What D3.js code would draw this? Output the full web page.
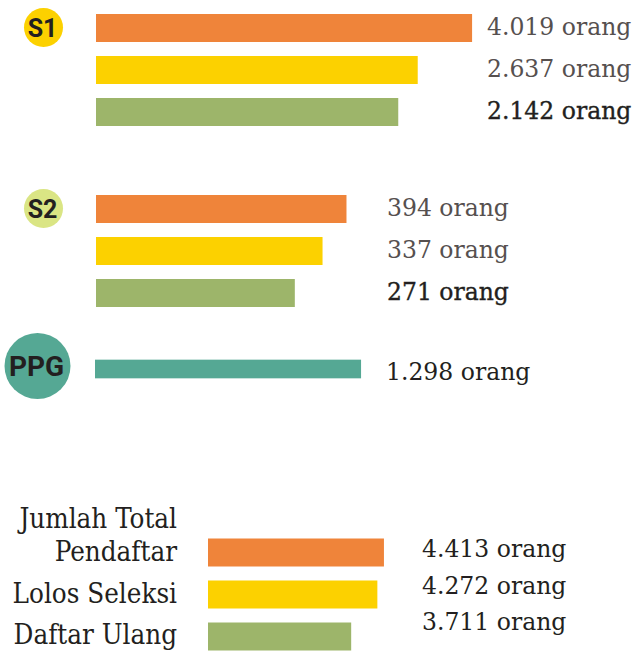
<!DOCTYPE html>
<html>
<head>
<meta charset="utf-8">
<script src="https://cdn.jsdelivr.net/npm/d3@7"></script>
<style>
  body { margin: 0; background: #fff; }
  svg { display: block; }
  .lencana { font-family: Roboto, "Open Sans", sans-serif; font-weight: 700; fill: #231f20; }
  .nilai { font-family: "DejaVu Serif", serif; font-size: 23.5px; }
  .tebal { stroke: #231f20; stroke-width: 0.35px; }
  .tahap { font-family: "DejaVu Serif Condensed", "DejaVu Serif", serif; font-stretch: condensed; font-size: 27.5px; fill: #231f20; }
</style>
</head>
<body>
<svg id="grafik" width="643" height="652"></svg>
<script>
// data per jenjang (urutan: pendaftar, lolos seleksi, daftar ulang)
const jenjang = ["S1", "S2", "PPG"];
const s1Nilai = [4019, 2637, 2142];
const s2Nilai = [394, 337, 271];
const ppgNilai = [1298];

// rekap total
const tahap = ["Jumlah Total Pendaftar", "Lolos Seleksi", "Daftar Ulang"];
const totalNilai = [4413, 4272, 3711];

const warnaTahap = ["#ef843a", "#fcd100", "#9db56a"];
const warnaPPG = "#55a894";

const idLocale = d3.formatLocale({ decimal: ",", thousands: ".", grouping: [3], currency: ["Rp", ""] });
const fmt = idLocale.format(",");

const svg = d3.select("#grafik");

// tiap blok punya skala sendiri (seperti infografis aslinya)
const blok = [
  { nama: "S1", nilai: s1Nilai, atas: 14, x0: 96, teksX: 487, geser: 7,
    domain: [0, 4500], range: [218, 395],
    lencana: { cx: 43.5, r: 19.5, warna: "#fcd100", size: 25 } },
  { nama: "S2", nilai: s2Nilai, atas: 195, x0: 96, teksX: 387, geser: 7,
    domain: [0, 400], range: [85, 253],
    lencana: { cx: 43.5, r: 19.5, warna: "#dae584", size: 25 } },
  { nama: "PPG", nilai: ppgNilai, atas: 355, x0: 95, teksX: 386, geser: 11,
    domain: [0, 4500], range: [215, 392],
    lencana: { cx: 37.5, r: 33, warna: warnaPPG, size: 28 } }
];

blok.forEach(b => {
  const x = d3.scaleLinear().domain(b.domain).range(b.range);
  const y = d3.scaleBand()
    .domain(d3.range(b.nilai.length))
    .range([b.atas, b.atas + b.nilai.length * 42 - 14])
    .paddingInner(1 / 3);
  const g = svg.append("g");
  const satu = b.nilai.length === 1;

  g.selectAll("rect")
    .data(b.nilai)
    .join("rect")
    .attr("x", b.x0)
    .attr("y", (d, i) => y(i))
    .attr("width", d => x(d))
    .attr("height", y.bandwidth())
    .attr("fill", (d, i) => satu ? warnaPPG : warnaTahap[i]);

  g.selectAll("text.nilai")
    .data(b.nilai)
    .join("text")
    .attr("class", (d, i) => (!satu && i === b.nilai.length - 1) ? "nilai tebal" : "nilai")
    .attr("x", b.teksX)
    .attr("y", (d, i) => y(i) + y.bandwidth() / 2 + b.geser)
    .attr("fill", (d, i) => (satu || i === b.nilai.length - 1) ? "#231f20" : "#56504f")
    .text(d => `${fmt(d)} orang`);

  // lencana bulat
  const cy = y(0) + y.bandwidth() / 2 - (satu ? 3 : 0.5);
  g.append("circle")
    .attr("cx", b.lencana.cx)
    .attr("cy", cy)
    .attr("r", b.lencana.r)
    .attr("fill", b.lencana.warna);
  g.append("text")
    .attr("class", "lencana")
    .attr("x", b.lencana.cx - 1)
    .attr("y", cy)
    .attr("dy", "0.36em")
    .attr("text-anchor", "middle")
    .style("font-size", b.lencana.size + "px")
    .text(b.nama);
});

// rekap total
const xTotal = d3.scaleLinear().domain([3000, 4500]).range([110, 180]);
const yTotal = d3.scaleBand()
  .domain(d3.range(totalNilai.length))
  .range([538.5, 538.5 + totalNilai.length * 42 - 14])
  .paddingInner(1 / 3);
const yNilaiTotal = d3.scalePoint().domain(d3.range(totalNilai.length)).range([557, 630]);

const gt = svg.append("g");
gt.selectAll("rect")
  .data(totalNilai)
  .join("rect")
  .attr("x", 208)
  .attr("y", (d, i) => yTotal(i))
  .attr("width", d => xTotal(d))
  .attr("height", yTotal.bandwidth())
  .attr("fill", (d, i) => warnaTahap[i]);

gt.selectAll("text.nilai")
  .data(totalNilai)
  .join("text")
  .attr("class", "nilai")
  .attr("x", 422)
  .attr("y", (d, i) => yNilaiTotal(i))
  .attr("fill", "#231f20")
  .text(d => `${fmt(d)} orang`);

// label tahap, "Jumlah Total Pendaftar" dipecah dua baris
const baris = tahap.map(t => t === "Jumlah Total Pendaftar" ? ["Jumlah Total", "Pendaftar"] : [t]);
gt.selectAll("text.tahap")
  .data(baris)
  .join("text")
  .attr("class", "tahap")
  .attr("text-anchor", "end")
  .attr("x", 177)
  .attr("y", (d, i) => yTotal(i) + yTotal.bandwidth() / 2 + (i === 2 ? 7.5 : 8.5))
  .each(function (d) {
    const t = d3.select(this);
    d.forEach((s, k) => {
      t.append("tspan")
        .attr("x", 177)
        .attr("dy", k === 0 ? -(d.length - 1) * 33 : 33)
        .text(s);
    });
  });
</script>
</body>
</html>
